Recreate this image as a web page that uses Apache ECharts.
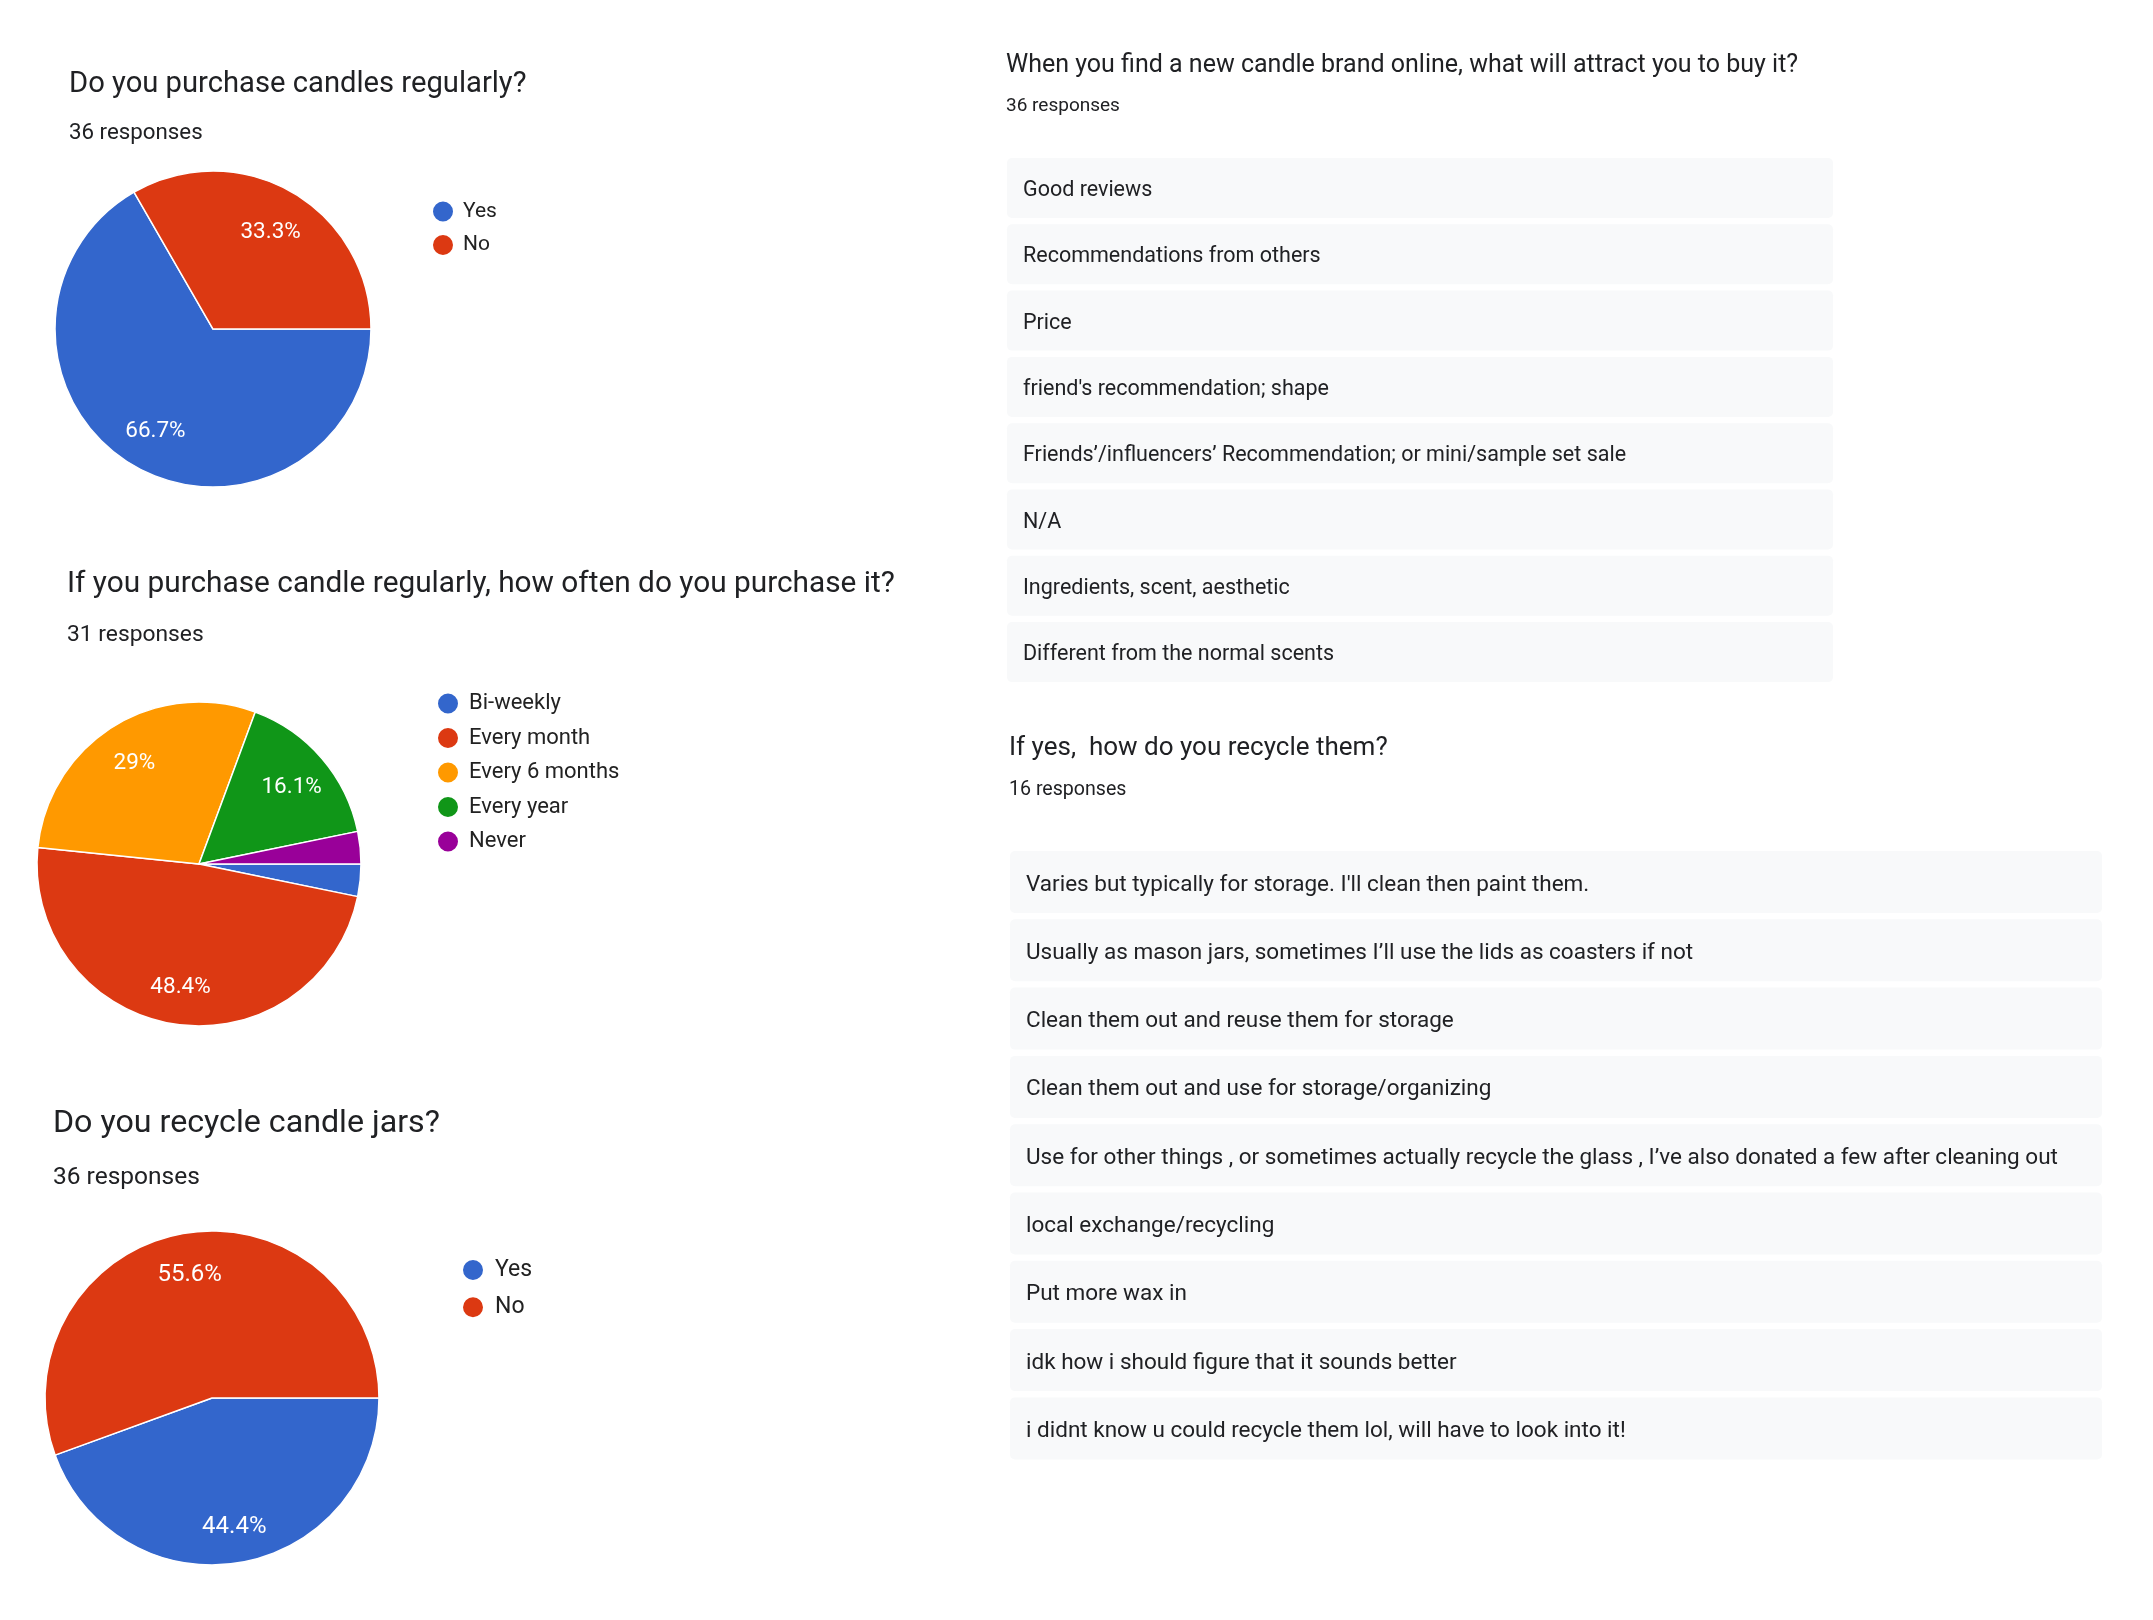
<!DOCTYPE html>
<html>
<head>
<meta charset="utf-8">
<script src="https://cdn.jsdelivr.net/npm/echarts@6/dist/echarts.min.js"></script>
<style>
html,body{margin:0;padding:0;background:#ffffff;}
#chart{width:2153px;height:1620px;}
</style>
</head>
<body>
<div id="chart"></div>
<script>
// ---------------- DATA ----------------
const q1Title = 'Do you purchase candles regularly?';
const q1Count = '36 responses';
const q1Categories = ['Yes', 'No'];
const q1Values = [24, 12];

const q2Title = 'If you purchase candle regularly, how often do you purchase it?';
const q2Count = '31 responses';
const q2Categories = ['Bi-weekly', 'Every month', 'Every 6 months', 'Every year', 'Never'];
const q2Values = [1, 15, 9, 5, 1];

const q3Title = 'Do you recycle candle jars?';
const q3Count = '36 responses';
const q3Categories = ['Yes', 'No'];
const q3Values = [16, 20];

const q4Title = 'When you find a new candle brand online, what will attract you to buy it?';
const q4Count = '36 responses';
const q4Answers = [
  'Good reviews',
  'Recommendations from others',
  'Price',
  "friend's recommendation; shape",
  'Friends\u2019/influencers\u2019 Recommendation; or mini/sample set sale',
  'N/A',
  'Ingredients, scent, aesthetic',
  'Different from the normal scents'
];

const q5Title = 'If yes,  how do you recycle them?';
const q5Count = '16 responses';
const q5Answers = [
  "Varies but typically for storage. I'll clean then paint them.",
  'Usually as mason jars, sometimes I\u2019ll use the lids as coasters if not',
  'Clean them out and reuse them for storage',
  'Clean them out and use for storage/organizing',
  'Use for other things , or sometimes actually recycle the glass , I\u2019ve also donated a few after cleaning out',
  'local exchange/recycling',
  'Put more wax in',
  'idk how i should figure that it sounds better',
  'i didnt know u could recycle them lol, will have to look into it!'
];

// ---------------- STYLE / LAYOUT ----------------
const FONT = 'Roboto, "Noto Sans", "Liberation Sans", sans-serif';
const PALETTE = ['#3366cc', '#dc3912', '#ff9900', '#109618', '#990099'];
const TEXT_DARK = '#202124';

const chart = echarts.init(document.getElementById('chart'), null, {renderer: 'canvas'});

function pieSeries(key, cats, vals, center, r, labelInnerRatio, labelSize) {
  const data = cats.map((n, i) => ({name: n, value: vals[i], itemStyle: {color: PALETTE[i]}}));
  const labelData = cats.map((n, i) => ({name: n, value: vals[i]}));
  return [
    {
      type: 'pie', id: key, center: center, radius: r,
      startAngle: 0, clockwise: true, avoidLabelOverlap: false,
      data: data,
      itemStyle: {borderColor: '#ffffff', borderWidth: 1.5},
      label: {show: false}, labelLine: {show: false},
      emphasis: {disabled: true}, animation: false
    },
    {
      type: 'pie', id: key + '-labels', center: center, radius: [r * labelInnerRatio, r],
      startAngle: 0, clockwise: true, avoidLabelOverlap: false, silent: true,
      minShowLabelAngle: 20,
      data: labelData,
      itemStyle: {color: 'rgba(0,0,0,0)', borderWidth: 0},
      label: {
        show: true, position: 'inside',
        formatter: p => '{v|' + Number(p.percent.toFixed(1)) + '%}',
        rich: {
          v: {color: '#ffffff', fontSize: labelSize, fontFamily: FONT, padding: [6, 0, 0, 0]}
        }
      },
      labelLine: {show: false},
      emphasis: {disabled: true}, animation: false
    }
  ];
}

function legendFor(cats, left, top, gap, size, pad) {
  return {
    orient: 'vertical', left: left, top: top, data: cats,
    icon: 'circle', itemWidth: 22, itemHeight: 22, itemGap: gap,
    selectedMode: false, padding: 0,
    textStyle: {fontSize: size, fontFamily: FONT, color: '#222222', lineHeight: 22, padding: [0, 0, 0, pad]}
  };
}

function txt(str, x, y, size, color) {
  return {
    type: 'text', x: x, y: y + size * 0.13, silent: true,
    style: {text: str, fill: color || TEXT_DARK, fontSize: size, fontFamily: FONT, verticalAlign: 'middle', align: 'left'}
  };
}

function answerList(answers, x, top, width, height, step, textX, size) {
  const els = [];
  answers.forEach((a, i) => {
    const y = top + i * step;
    els.push({
      type: 'rect', silent: true,
      shape: {x: x, y: y, width: width, height: height, r: 5},
      style: {fill: '#f8f9fa'}
    });
    els.push(txt(a, textX, y + height / 2, size, TEXT_DARK));
  });
  return els;
}

const graphics = [].concat(
  [
    txt(q1Title, 69, 81, 29.2),
    txt(q1Count, 69, 131, 22.3),
    txt(q2Title, 67, 581, 29.8),
    txt(q2Count, 67, 632, 22.8),
    txt(q3Title, 53, 1120, 32.2),
    txt(q3Count, 53, 1175, 24.5),
    txt(q4Title, 1006, 62, 25),
    txt(q4Count, 1006, 104, 19),
    txt(q5Title, 1009, 745, 26),
    txt(q5Count, 1009, 788, 19.6)
  ],
  answerList(q4Answers, 1007, 158, 826, 60, 66.3, 1023, 21.5),
  answerList(q5Answers, 1010, 851, 1092, 62, 68.3, 1026, 22.5)
);

const option = {
  backgroundColor: '#ffffff',
  animation: false,
  legend: [
    legendFor(q1Categories, 431, 199.5, 9.5, 21, 4),
    legendFor(q2Categories, 436, 691.5, 10.5, 22, 5),
    legendFor(q3Categories, 461, 1258, 13.3, 23, 6)
  ],
  series: [].concat(
    pieSeries('q1', q1Categories, q1Values, [213, 329], 158, 0.42, 22.5),
    pieSeries('q2', q2Categories, q2Values, [199, 864], 162, 0.47, 22.5),
    pieSeries('q3', q3Categories, q3Values, [212, 1398], 167, 0.5, 24)
  ),
  graphic: graphics
};

chart.setOption(option);
</script>
</body>
</html>
